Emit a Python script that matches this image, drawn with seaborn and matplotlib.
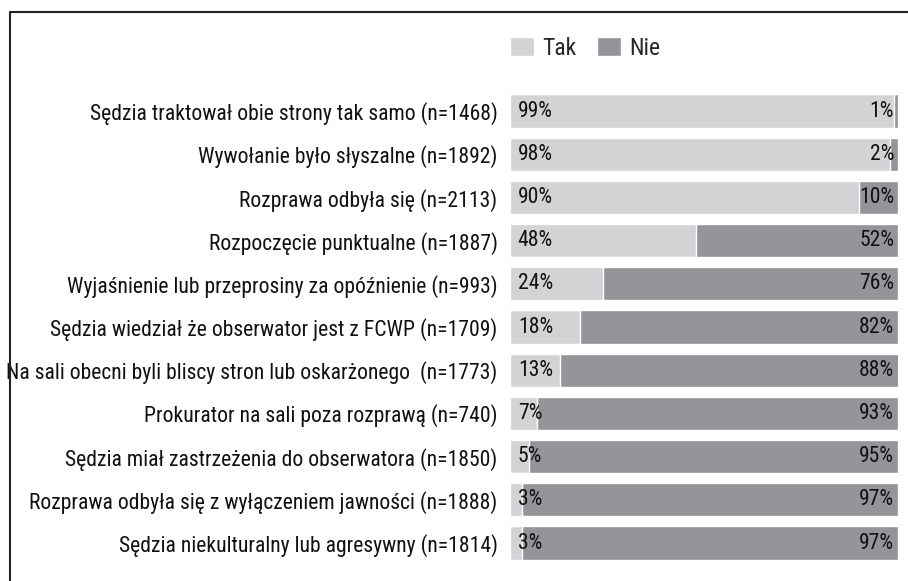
import matplotlib
matplotlib.use('Agg')
import matplotlib.pyplot as plt
import seaborn as sns
import pandas as pd
from matplotlib.patches import Patch
from matplotlib.lines import Line2D

# dane
pytania = [
    'Sędzia traktował obie strony tak samo (n=1468)',
    'Wywołanie było słyszalne (n=1892)',
    'Rozprawa odbyła się (n=2113)',
    'Rozpoczęcie punktualne (n=1887)',
    'Wyjaśnienie lub przeprosiny za opóźnienie (n=993)',
    'Sędzia wiedział że obserwator jest z FCWP (n=1709)',
    'Na sali obecni byli bliscy stron lub oskarżonego  (n=1773)',
    'Prokurator na sali poza rozprawą (n=740)',
    'Sędzia miał zastrzeżenia do obserwatora (n=1850)',
    'Rozprawa odbyła się z wyłączeniem jawności (n=1888)',
    'Sędzia niekulturalny lub agresywny (n=1814)',
]
tak = [99, 98, 90, 48, 24, 18, 13, 7, 5, 3, 3]
nie = [1, 2, 10, 52, 76, 82, 88, 93, 95, 97, 97]

kolor_tak = '#d3d3d5'
kolor_nie = '#939598'

sns.set_theme(style='white')
plt.rcParams['font.family'] = ['Roboto Condensed', 'Noto Sans', 'DejaVu Sans']
plt.rcParams['font.stretch'] = 'condensed'

df = pd.DataFrame({'Pytanie': pytania, 'Tak': tak, 'Nie': nie})
df['Suma'] = df['Tak'] + df['Nie']

fig = plt.figure(figsize=(9.08, 5.81), dpi=100)
ax = fig.add_axes([0.5617, 0.0282, 0.4273, 0.8178])

# najpierw cały pasek (Nie), potem Tak na wierzchu
sns.barplot(data=df, x='Suma', y='Pytanie', color=kolor_nie, width=0.77,
            saturation=1, ax=ax)
sns.barplot(data=df, x='Tak', y='Pytanie', color=kolor_tak, width=0.77,
            saturation=1, ax=ax)

ax.set_xlim(0, 100)
ax.set_ylim(10.5, -0.5)
ax.set_xlabel('')
ax.set_ylabel('')
ax.set_xticks([])
ax.tick_params(axis='y', length=0, pad=9, labelsize=15.6, labelcolor='#111111')
for s in ax.spines.values():
    s.set_visible(False)

# etykiety procentowe
for i, (t, n) in enumerate(zip(tak, nie)):
    ax.text(2, i, f'{t}%', va='center', ha='left', fontsize=15.6, color='#111111')
    ax.text(99, i, f'{n}%', va='center', ha='right', fontsize=15.6, color='#111111')

# legenda
uchwyty = [Patch(facecolor=kolor_tak, label='Tak'), Patch(facecolor=kolor_nie, label='Nie')]
fig.legend(handles=uchwyty, loc='center left', bbox_to_anchor=(0.5617, 0.917),
           ncol=2, frameon=False, fontsize=17, handlelength=1.0, handleheight=0.8,
           handletextpad=0.35, columnspacing=0.9, borderpad=0, borderaxespad=0)

# ramka (góra i lewo)
fig.add_artist(Line2D([0.0105, 1.0], [0.979, 0.979], transform=fig.transFigure,
                      color='#222222', lw=1.5))
fig.add_artist(Line2D([0.0105, 0.0105], [0.0, 0.979], transform=fig.transFigure,
                      color='#222222', lw=1.5))

fig.savefig('out.png', dpi=100)
